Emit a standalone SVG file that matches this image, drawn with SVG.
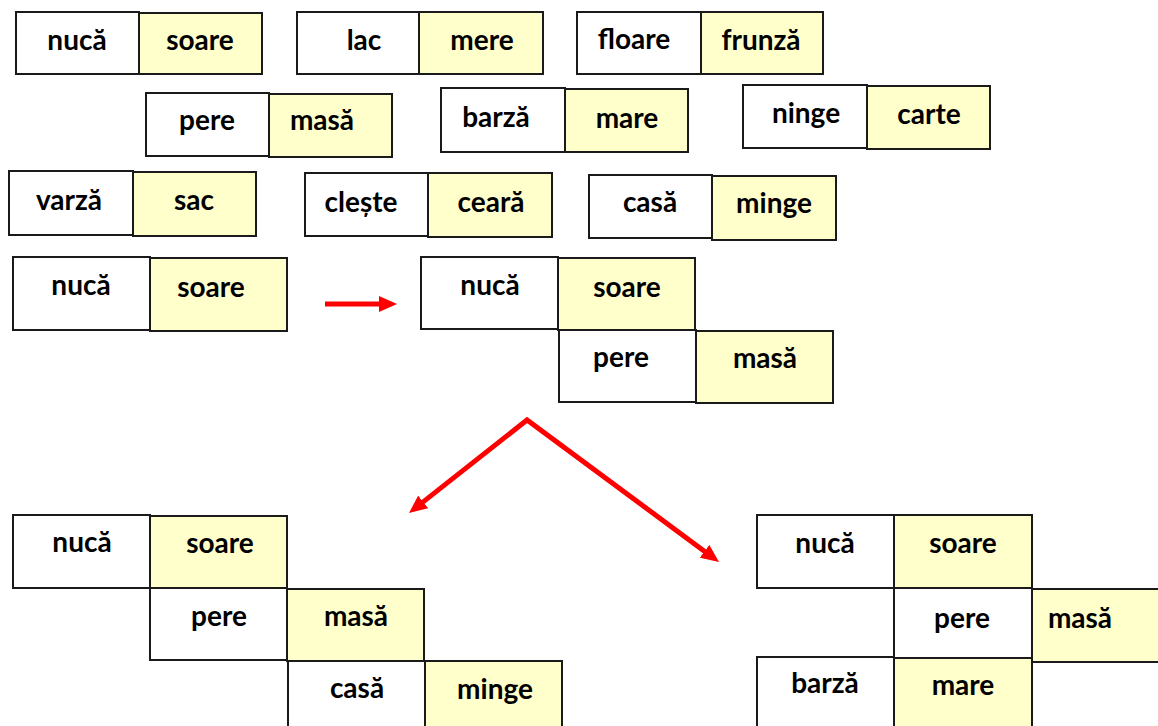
<svg xmlns="http://www.w3.org/2000/svg" width="1158" height="726" viewBox="0 0 1158 726">
<style>
.w{fill:#ffffff;stroke:#1a1a1a;stroke-width:2}
.y{fill:#ffffcc;stroke:#1a1a1a;stroke-width:2}
.t{font-family:Lato,"Open Sans",sans-serif;font-weight:bold;font-size:28px;fill:#000;text-anchor:middle}
.arr{fill:none;stroke:#ff0000;stroke-width:5;stroke-linejoin:miter}
</style>
<defs>
<marker id="ah" markerUnits="userSpaceOnUse" markerWidth="18" markerHeight="16" refX="6" refY="8" orient="auto-start-reverse">
<path d="M0,0 L18,8 L0,16 z" fill="#ff0000"/>
</marker>
</defs>
<rect width="1158" height="726" fill="#ffffff"/>

<g id="r1-nuca"><rect class="w" x="16" y="12" width="123" height="62"/><text class="t" x="77" y="50">nucă</text></g>
<g id="r1-soare"><rect class="y" x="139" y="13" width="123" height="61"/><text class="t" x="200" y="50">soare</text></g>
<g id="r1-lac"><rect class="w" x="297" y="12" width="122" height="62"/><text class="t" x="364" y="50">lac</text></g>
<g id="r1-mere"><rect class="y" x="419" y="12" width="124" height="62"/><text class="t" x="482" y="50">mere</text></g>
<g id="r1-floare"><rect class="w" x="577" y="12" width="124" height="62"/><text class="t" x="634" y="49">floare</text></g>
<g id="r1-frunza"><rect class="y" x="701" y="12" width="122" height="62"/><text class="t" x="761" y="50">frunză</text></g>

<g id="r2-pere"><rect class="w" x="146" y="93" width="123" height="63"/><text class="t" x="207" y="130">pere</text></g>
<g id="r2-masa"><rect class="y" x="269" y="94" width="123" height="63"/><text class="t" x="322" y="130">masă</text></g>
<g id="r2-barza"><rect class="w" x="441" y="88" width="124" height="64"/><text class="t" x="496" y="127">barză</text></g>
<g id="r2-mare"><rect class="y" x="565" y="89" width="123" height="63"/><text class="t" x="627" y="128">mare</text></g>
<g id="r2-ninge"><rect class="w" x="743" y="85" width="124" height="63"/><text class="t" x="806" y="123">ninge</text></g>
<g id="r2-carte"><rect class="y" x="867" y="86" width="123" height="63"/><text class="t" x="929" y="124">carte</text></g>

<g id="r3-varza"><rect class="w" x="9" y="171" width="124" height="64"/><text class="t" x="69" y="210">varză</text></g>
<g id="r3-sac"><rect class="y" x="133" y="172" width="123" height="64"/><text class="t" x="194" y="210">sac</text></g>
<g id="r3-cleste"><rect class="w" x="305" y="173" width="123" height="63"/><text class="t" x="361" y="212">clește</text></g>
<g id="r3-ceara"><rect class="y" x="428" y="173" width="124" height="64"/><text class="t" x="491" y="212">ceară</text></g>
<g id="r3-casa"><rect class="w" x="589" y="175" width="123" height="63"/><text class="t" x="650" y="212">casă</text></g>
<g id="r3-minge"><rect class="y" x="712" y="176" width="124" height="64"/><text class="t" x="774" y="213">minge</text></g>

<g id="a-nuca"><rect class="w" x="13" y="257" width="137" height="73"/><text class="t" x="81" y="295">nucă</text></g>
<g id="a-soare"><rect class="y" x="150" y="258" width="137" height="73"/><text class="t" x="211" y="297">soare</text></g>

<g id="b-nuca"><rect class="w" x="421" y="257" width="137" height="72"/><text class="t" x="490" y="295">nucă</text></g>
<g id="b-soare"><rect class="y" x="558" y="258" width="137" height="72"/><text class="t" x="627" y="297">soare</text></g>
<g id="b-pere"><rect class="w" x="559" y="330" width="137" height="72"/><text class="t" x="621" y="367">pere</text></g>
<g id="b-masa"><rect class="y" x="696" y="331" width="137" height="72"/><text class="t" x="765" y="368">masă</text></g>

<g id="c-nuca"><rect class="w" x="13" y="515" width="137" height="73"/><text class="t" x="82" y="552">nucă</text></g>
<g id="c-soare"><rect class="y" x="150" y="516" width="137" height="72"/><text class="t" x="220" y="553">soare</text></g>
<g id="c-pere"><rect class="w" x="150" y="588" width="137" height="72"/><text class="t" x="219" y="626">pere</text></g>
<g id="c-masa"><rect class="y" x="287" y="589" width="137" height="72"/><text class="t" x="356" y="626">masă</text></g>
<g id="c-casa"><rect class="w" x="288" y="661" width="137" height="72"/><text class="t" x="357" y="698">casă</text></g>
<g id="c-minge"><rect class="y" x="425" y="661" width="137" height="72"/><text class="t" x="495" y="699">minge</text></g>

<g id="d-nuca"><rect class="w" x="757" y="515" width="137" height="73"/><text class="t" x="825" y="553">nucă</text></g>
<g id="d-soare"><rect class="y" x="894" y="515" width="138" height="73"/><text class="t" x="963" y="553">soare</text></g>
<g id="d-pere"><rect class="w" x="894" y="588" width="138" height="72"/><text class="t" x="962" y="628">pere</text></g>
<g id="d-masa"><rect class="y" x="1032" y="589" width="137" height="73"/><text class="t" x="1080" y="628">masă</text></g>
<g id="d-barza"><rect class="w" x="757" y="657" width="137" height="72"/><text class="t" x="825" y="693">barză</text></g>
<g id="d-mare"><rect class="y" x="894" y="658" width="138" height="72"/><text class="t" x="963" y="695">mare</text></g>

<g id="connectors">
<path class="arr" d="M325,304 L385,304" marker-end="url(#ah)"/>
<path class="arr" d="M418.4,505.6 L527,420 L709.4,554.9" marker-start="url(#ah)" marker-end="url(#ah)"/>
</g>
</svg>
